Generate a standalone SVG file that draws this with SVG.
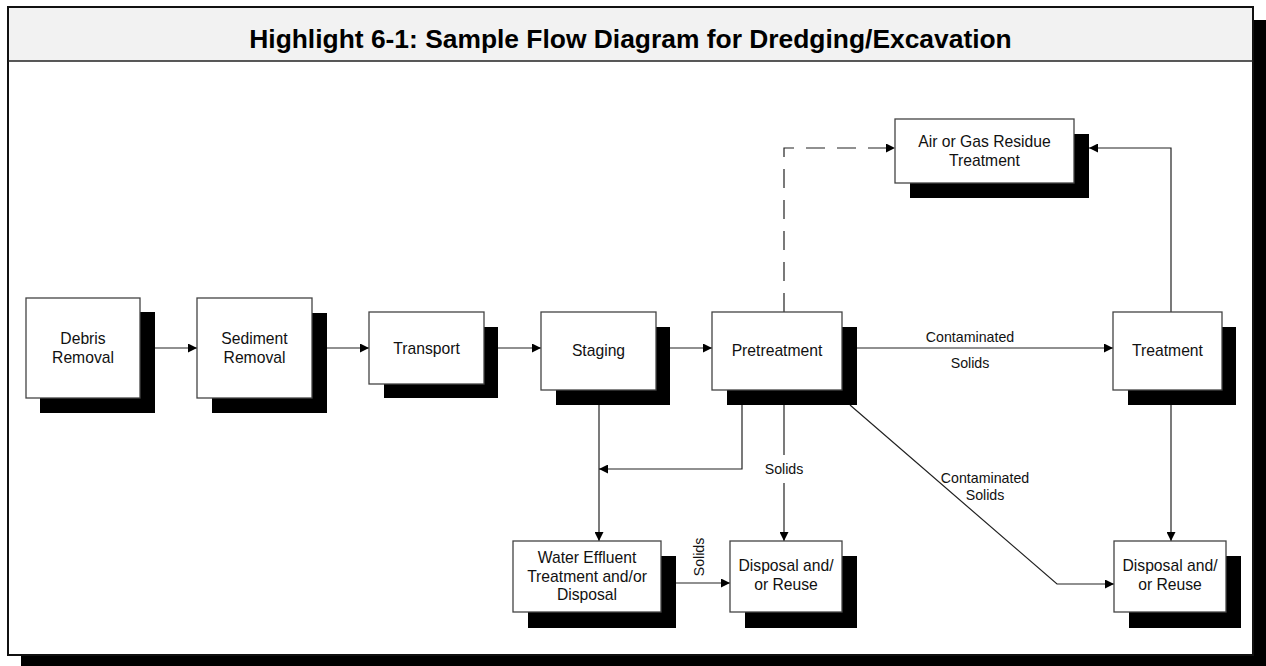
<svg xmlns="http://www.w3.org/2000/svg" width="1266" height="666" viewBox="0 0 1266 666">
<defs>
<marker id="ah" viewBox="0 0 10 10" refX="10" refY="5" markerWidth="10" markerHeight="9" orient="auto" markerUnits="userSpaceOnUse">
<path d="M0,0 L10,5 L0,10 z" fill="#000"/>
</marker>
</defs>
<style>
.sh{fill:#000}
.bx{fill:#fff;stroke:#444;stroke-width:1.3}
.t{font-family:"Liberation Sans",Arial,sans-serif;font-size:15.7px;fill:#111;text-anchor:middle}
.l{font-family:"Liberation Sans",Arial,sans-serif;font-size:14.2px;fill:#111;text-anchor:middle}
.c{fill:none;stroke:#222;stroke-width:1.2}
.ca{fill:none;stroke:#222;stroke-width:1.2;marker-end:url(#ah)}
</style>
<rect x="0" y="0" width="1266" height="666" fill="#fff"/>
<g id="frame">
<rect x="1254" y="20" width="12" height="646" fill="#000"/>
<rect x="21" y="656" width="1245" height="10" fill="#000"/>
<rect x="8" y="7" width="1245" height="648" fill="#fff" stroke="#111" stroke-width="2"/>
<rect x="9" y="8" width="1243" height="53" fill="#f2f2f2"/>
<line x1="8" y1="61" x2="1253" y2="61" stroke="#222" stroke-width="1.5"/>
<text x="630.5" y="48" font-family="'Liberation Sans',Arial,sans-serif" font-size="26.4" font-weight="bold" text-anchor="middle" fill="#000">Highlight 6-1: Sample Flow Diagram for Dredging/Excavation</text>
</g>
<g id="connectors">
<path class="ca" d="M155,348 H197"/>
<path class="ca" d="M327,348 H369"/>
<path class="ca" d="M498,348 H541"/>
<path class="ca" d="M670,348 H712"/>
<path class="ca" d="M857,348 H1113"/>
<path class="ca" d="M784,312 V148 H895" stroke-dasharray="19 12"/>
<path class="ca" d="M1171,312 V148 H1089"/>
<path class="ca" d="M1171,405 V541"/>
<path class="ca" d="M850,405 L1057,584 H1114"/>
<path class="ca" d="M599,405 V541"/>
<path class="ca" d="M742,405 V469 H599"/>
<path class="c" d="M784,405 V455"/>
<path class="ca" d="M784,483 V541"/>
<path class="ca" d="M676,583 H730"/>
<text class="l" x="970" y="342">Contaminated</text>
<text class="l" x="970" y="368">Solids</text>
<text class="l" x="985" y="483">Contaminated</text>
<text class="l" x="985" y="499.5">Solids</text>
<text class="l" x="784" y="473.5">Solids</text>
<text class="l" transform="translate(704,557) rotate(-90)">Solids</text>
</g>
<g id="debris">
<rect class="sh" x="40" y="312" width="115" height="101"/>
<rect class="bx" x="26" y="298" width="114" height="100"/>
<text class="t" x="83" y="343.5">Debris</text>
<text class="t" x="83" y="362.5">Removal</text>
</g>
<g id="sediment">
<rect class="sh" x="212" y="313" width="115" height="100"/>
<rect class="bx" x="197" y="298" width="115" height="100"/>
<text class="t" x="254.5" y="343.5">Sediment</text>
<text class="t" x="254.5" y="362.5">Removal</text>
</g>
<g id="transport">
<rect class="sh" x="384" y="327" width="114" height="71"/>
<rect class="bx" x="369" y="312" width="115" height="72"/>
<text class="t" x="426.5" y="353.5">Transport</text>
</g>
<g id="staging">
<rect class="sh" x="556" y="327" width="114" height="78"/>
<rect class="bx" x="541" y="312" width="115" height="78"/>
<text class="t" x="598.5" y="356">Staging</text>
</g>
<g id="pretreatment">
<rect class="sh" x="727" y="327" width="130" height="78"/>
<rect class="bx" x="712" y="312" width="130" height="78"/>
<text class="t" x="777" y="356">Pretreatment</text>
</g>
<g id="treatment">
<rect class="sh" x="1128" y="327" width="108" height="78"/>
<rect class="bx" x="1113" y="312" width="109" height="78"/>
<text class="t" x="1167.5" y="356">Treatment</text>
</g>
<g id="airgas">
<rect class="sh" x="910" y="134" width="179" height="64"/>
<rect class="bx" x="895" y="119" width="179" height="64"/>
<text class="t" x="984.5" y="146.5">Air or Gas Residue</text>
<text class="t" x="984.5" y="166">Treatment</text>
</g>
<g id="water">
<rect class="sh" x="528" y="556" width="148" height="72"/>
<rect class="bx" x="513" y="541" width="148" height="71"/>
<text class="t" x="587" y="562.5">Water Effluent</text>
<text class="t" x="587" y="581.5">Treatment and/or</text>
<text class="t" x="587" y="600">Disposal</text>
</g>
<g id="disposal1">
<rect class="sh" x="745" y="556" width="112" height="72"/>
<rect class="bx" x="730" y="541" width="112" height="71"/>
<text class="t" x="786" y="571">Disposal and/</text>
<text class="t" x="786" y="590">or Reuse</text>
</g>
<g id="disposal2">
<rect class="sh" x="1129" y="556" width="112" height="72"/>
<rect class="bx" x="1114" y="541" width="112" height="71"/>
<text class="t" x="1170" y="571">Disposal and/</text>
<text class="t" x="1170" y="590">or Reuse</text>
</g>
</svg>
